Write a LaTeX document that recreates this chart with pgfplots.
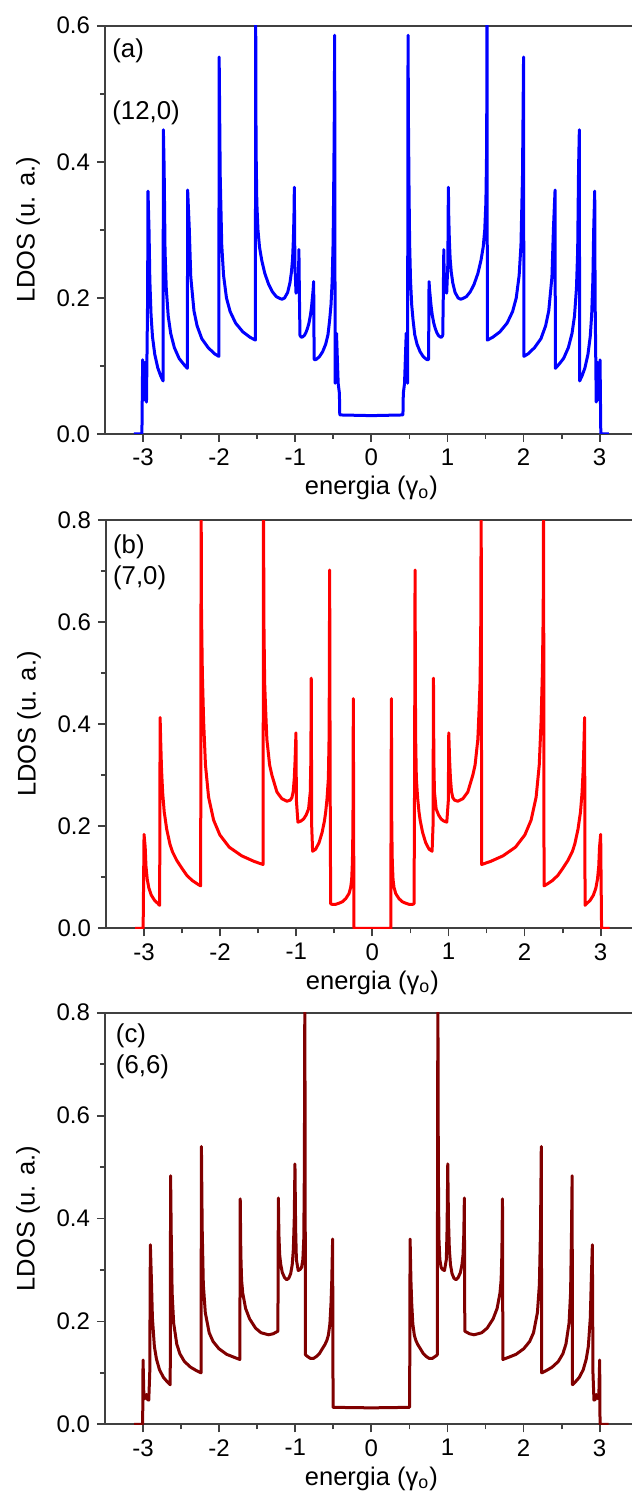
\documentclass[border=0pt]{standalone}
\usepackage{fontspec}
\setmainfont{Liberation Sans}
\usepackage{pgfplots}
\pgfplotsset{compat=1.18}
\definecolor{axisgray}{RGB}{64,64,64}
\definecolor{cblue}{RGB}{0,0,255}
\definecolor{cred}{RGB}{255,0,0}
\definecolor{cmaroon}{RGB}{128,0,0}
\tikzset{plab/.style={anchor=north west, inner sep=0pt, font=\fontsize{12.9}{15}\selectfont}}
\pgfplotsset{
  ldos/.style={
    scale only axis, width=264.45pt,
    xmin=-3.5, xmax=3.45, ymin=0,
    xtick={-3,-2,-1,0,1,2,3},
    minor x tick num=1, minor y tick num=1,
    tick pos=left, tick align=outside,
    major tick length=4pt, minor tick length=2.5pt,
    axis line style={axisgray, line width=0.9pt},
    tick style={axisgray, line width=0.9pt},
    ticklabel style={font=\fontsize{12}{14}\selectfont},
    /pgf/number format/assume math mode=true,
    yticklabel style={/pgf/number format/fixed, /pgf/number format/fixed zerofill, /pgf/number format/precision=1},
    xlabel={energia (γ\textsubscript{o})},
    ylabel={LDOS (u. a.)},
    label style={font=\fontsize{12.75}{15}\selectfont},
    xlabel style={at={(axis description cs:0.5036,0)}, anchor=base, yshift=-30.5pt},
    ylabel style={at={(axis description cs:-0.1456,0.5)}, anchor=center},
    every axis plot/.append style={line width=1.5pt, line join=round},
  },
}
\begin{document}
\begin{tikzpicture}
\path[use as bounding box] (0,0) rectangle (316pt,-747.5pt);
% ---------------- (a) ----------------
\begin{axis}[ldos, at={(52.5pt,-12.85pt)}, anchor=north west, height=204.15pt,
  ymax=0.6, ytick={0,0.2,0.4,0.6}]
\addplot[cblue] coordinates {
(-3.12,0) (-3.015,0) (-3.005,0.109) (-2.99,0.05) (-2.975,0.105) (-2.955,0.047) (-2.94,0.2) (-2.935,0.357)
(-2.921,0.297) (-2.911,0.227) (-2.895,0.175) (-2.876,0.143) (-2.846,0.117) (-2.806,0.097) (-2.767,0.085) (-2.737,0.078)
(-2.733,0.447) (-2.723,0.392) (-2.711,0.269) (-2.695,0.214) (-2.669,0.173) (-2.637,0.148) (-2.589,0.127) (-2.526,0.111) (-2.462,0.102) (-2.418,0.0965)
(-2.414,0.3585) (-2.393,0.303) (-2.373,0.231) (-2.331,0.181) (-2.290,0.159) (-2.228,0.140) (-2.145,0.127) (-2.062,0.118) (-2.004,0.114)
(-2.0,0.554) (-1.986,0.379) (-1.966,0.278) (-1.942,0.233) (-1.904,0.200) (-1.856,0.180) (-1.784,0.163) (-1.688,0.150) (-1.592,0.142) (-1.524,0.138)
(-1.52,0.62) (-1.515,0.42) (-1.505,0.34) (-1.49,0.30) (-1.47,0.275) (-1.44,0.255) (-1.40,0.236) (-1.35,0.220) (-1.30,0.209) (-1.25,0.202) (-1.20,0.199) (-1.174,0.198)
(-1.14,0.200) (-1.10,0.208) (-1.07,0.222) (-1.05,0.238) (-1.035,0.258) (-1.025,0.285) (-1.017,0.32) (-1.012,0.3625)
(-1.005,0.25) (-0.99,0.207) (-0.975,0.212) (-0.958,0.222) (-0.952,0.271) (-0.945,0.2) (-0.938,0.145) (-0.92,0.142) (-0.90,0.143)
(-0.88,0.145) (-0.86,0.149) (-0.84,0.155) (-0.82,0.163) (-0.80,0.175) (-0.785,0.188) (-0.775,0.200) (-0.765,0.212) (-0.758,0.224)
(-0.752,0.11) (-0.74,0.109) (-0.72,0.110) (-0.68,0.114) (-0.64,0.121) (-0.60,0.132) (-0.57,0.146) (-0.548,0.1675) (-0.53,0.19) (-0.515,0.225) (-0.503,0.28) (-0.495,0.36) (-0.488,0.45) (-0.482,0.586)
(-0.476,0.0745) (-0.458,0.148) (-0.436,0.0745) (-0.42,0.06) (-0.415,0.028) (0,0.027)
(0.415,0.028) (0.42,0.06) (0.436,0.0745) (0.458,0.148) (0.476,0.0745)
(0.482,0.586) (0.488,0.45) (0.495,0.36) (0.503,0.28) (0.515,0.225) (0.53,0.19) (0.548,0.1675) (0.57,0.146) (0.60,0.132) (0.64,0.121) (0.68,0.114) (0.72,0.110) (0.74,0.109) (0.752,0.11)
(0.758,0.224) (0.765,0.212) (0.775,0.200) (0.785,0.188) (0.80,0.175) (0.82,0.163) (0.84,0.155) (0.86,0.149) (0.88,0.145)
(0.90,0.143) (0.92,0.142) (0.938,0.145) (0.945,0.2) (0.952,0.271) (0.958,0.222) (0.975,0.212) (0.99,0.207) (1.005,0.25)
(1.012,0.3625) (1.017,0.32) (1.025,0.285) (1.035,0.258) (1.05,0.238) (1.07,0.222) (1.10,0.208) (1.14,0.200)
(1.174,0.198) (1.20,0.199) (1.25,0.202) (1.30,0.209) (1.35,0.220) (1.40,0.236) (1.44,0.255) (1.47,0.275) (1.49,0.30) (1.505,0.34) (1.515,0.42) (1.52,0.62)
(1.524,0.138) (1.592,0.142) (1.688,0.150) (1.784,0.163) (1.856,0.180) (1.904,0.200) (1.942,0.233) (1.966,0.278) (1.986,0.379) (2.0,0.554)
(2.004,0.114) (2.062,0.118) (2.145,0.127) (2.228,0.140) (2.290,0.159) (2.331,0.181) (2.373,0.231) (2.393,0.303) (2.414,0.3585)
(2.418,0.0965) (2.462,0.102) (2.526,0.111) (2.589,0.127) (2.637,0.148) (2.669,0.173) (2.695,0.214) (2.711,0.269) (2.723,0.392) (2.733,0.447)
(2.737,0.078) (2.767,0.085) (2.806,0.097) (2.846,0.117) (2.876,0.143) (2.895,0.175) (2.911,0.227) (2.921,0.297)
(2.935,0.357) (2.94,0.2) (2.955,0.047) (2.975,0.105) (2.99,0.05) (3.005,0.109) (3.015,0) (3.12,0)
};
\node[plab] at (rel axis cs:0.0132,0.97) {(a)};
\node[plab] at (rel axis cs:0.0132,0.818) {(12,0)};
\end{axis}
% ---------------- (b) ----------------
\begin{axis}[ldos, at={(53pt,-260pt)}, anchor=north west, height=204.15pt,
  ymax=0.8, ytick={0,0.2,0.4,0.6,0.8}]
\addplot[cred] coordinates {
(-3.118,0) (-3.012,0) (-3.006,0.09) (-3.0,0.184)
(-2.985,0.159) (-2.975,0.122) (-2.958,0.096) (-2.937,0.079) (-2.905,0.065) (-2.863,0.055) (-2.821,0.049) (-2.795,0.045)
(-2.789,0.413) (-2.78,0.36) (-2.77,0.31) (-2.755,0.265) (-2.735,0.228) (-2.702,0.194) (-2.66,0.165) (-2.627,0.150) (-2.57,0.133) (-2.50,0.117) (-2.439,0.104) (-2.37,0.094) (-2.30,0.087) (-2.256,0.083)
(-2.25,0.85) (-2.245,0.62) (-2.234,0.50) (-2.217,0.405) (-2.193,0.320) (-2.152,0.257) (-2.086,0.212) (-2.004,0.183) (-1.881,0.159) (-1.717,0.142) (-1.553,0.131) (-1.436,0.125)
(-1.43,0.85) (-1.425,0.6) (-1.415,0.48) (-1.40,0.42) (-1.386,0.37) (-1.35,0.32) (-1.32,0.30) (-1.254,0.267) (-1.19,0.254) (-1.123,0.249) (-1.08,0.251) (-1.057,0.256) (-1.04,0.268) (-1.026,0.294) (-1.015,0.33) (-1.004,0.383)
(-0.998,0.25) (-0.978,0.208) (-0.94,0.21) (-0.904,0.214) (-0.87,0.222) (-0.838,0.234) (-0.816,0.267) (-0.808,0.33) (-0.803,0.49) (-0.797,0.2) (-0.785,0.151)
(-0.745,0.155) (-0.70,0.168) (-0.66,0.188) (-0.63,0.21) (-0.613,0.228) (-0.595,0.255) (-0.578,0.294) (-0.568,0.38) (-0.561,0.702) (-0.555,0.3) (-0.548,0.048)
(-0.53,0.047) (-0.482,0.047) (-0.44,0.049) (-0.394,0.052) (-0.35,0.058) (-0.307,0.068) (-0.285,0.08) (-0.272,0.095) (-0.262,0.13) (-0.255,0.2) (-0.25,0.45) (-0.242,0)
(0,0)
(0.242,0) (0.25,0.45) (0.255,0.2) (0.262,0.13) (0.272,0.095) (0.285,0.08) (0.307,0.068) (0.35,0.058) (0.394,0.052) (0.44,0.049) (0.482,0.047) (0.53,0.047)
(0.548,0.048) (0.555,0.3) (0.561,0.702) (0.568,0.38) (0.578,0.294) (0.595,0.255) (0.613,0.228) (0.63,0.21) (0.66,0.188) (0.70,0.168) (0.745,0.155)
(0.785,0.151) (0.797,0.2) (0.803,0.49) (0.808,0.33) (0.816,0.267) (0.838,0.234) (0.87,0.222) (0.904,0.214) (0.94,0.21) (0.978,0.208) (0.998,0.25)
(1.004,0.383) (1.015,0.33) (1.026,0.294) (1.04,0.268) (1.057,0.256) (1.08,0.251) (1.123,0.249) (1.19,0.254) (1.254,0.267) (1.32,0.30) (1.35,0.32) (1.386,0.37) (1.40,0.42) (1.415,0.48) (1.425,0.6) (1.43,0.85)
(1.436,0.125) (1.553,0.131) (1.717,0.142) (1.881,0.159) (2.004,0.183) (2.086,0.212) (2.152,0.257) (2.193,0.320) (2.217,0.405) (2.234,0.50) (2.245,0.62) (2.25,0.85)
(2.256,0.083) (2.30,0.087) (2.37,0.094) (2.439,0.104) (2.50,0.117) (2.57,0.133) (2.627,0.150) (2.66,0.165) (2.702,0.194) (2.735,0.228) (2.755,0.265) (2.77,0.31) (2.78,0.36) (2.789,0.413)
(2.795,0.045) (2.821,0.049) (2.863,0.055) (2.905,0.065) (2.937,0.079) (2.958,0.096) (2.975,0.122) (2.985,0.159) (3.0,0.184) (3.006,0.09) (3.012,0) (3.118,0)
};
\node[plab] at (rel axis cs:0.0127,0.964) {(b)};
\node[plab] at (rel axis cs:0.0127,0.89) {(7,0)};
\end{axis}
% ---------------- (c) ----------------
\begin{axis}[ldos, at={(52.5pt,-506.35pt)}, anchor=north west, height=205.8pt,
  ymax=0.8, ytick={0,0.2,0.4,0.6,0.8}]
\addplot[cmaroon] coordinates {
(-3.118,0) (-3.005,0) (-3.0,0.125) (-2.99,0.06) (-2.975,0.05) (-2.955,0.058) (-2.94,0.048) (-2.925,0.047) (-2.912,0.1) (-2.904,0.349)
(-2.891,0.285) (-2.877,0.207) (-2.851,0.151) (-2.824,0.127) (-2.784,0.106) (-2.731,0.091) (-2.678,0.082) (-2.643,0.077)
(-2.638,0.483) (-2.63,0.373) (-2.618,0.256) (-2.598,0.197) (-2.557,0.156) (-2.516,0.137) (-2.456,0.122) (-2.375,0.111) (-2.294,0.104) (-2.238,0.1)
(-2.233,0.54) (-2.223,0.381) (-2.208,0.272) (-2.182,0.217) (-2.131,0.178) (-2.08,0.161) (-2.003,0.147) (-1.901,0.136) (-1.799,0.13) (-1.728,0.126)
(-1.723,0.438) (-1.715,0.33) (-1.705,0.28) (-1.69,0.255) (-1.652,0.225) (-1.60,0.205) (-1.522,0.187) (-1.45,0.178) (-1.35,0.174) (-1.29,0.176) (-1.228,0.181)
(-1.222,0.44) (-1.215,0.37) (-1.205,0.33) (-1.19,0.31) (-1.17,0.295) (-1.14,0.285) (-1.113,0.281) (-1.085,0.284) (-1.06,0.293) (-1.04,0.31) (-1.025,0.34) (-1.013,0.4) (-1.004,0.506)
(-0.995,0.38) (-0.985,0.32) (-0.961,0.299) (-0.935,0.301) (-0.917,0.305) (-0.9,0.32) (-0.888,0.36) (-0.88,0.5) (-0.874,0.85) (-0.866,0.135)
(-0.84,0.132) (-0.80,0.128) (-0.761,0.128) (-0.72,0.132) (-0.68,0.138) (-0.652,0.145) (-0.61,0.155) (-0.585,0.163) (-0.565,0.173) (-0.545,0.195) (-0.53,0.236) (-0.52,0.28) (-0.509,0.36) (-0.503,0.033)
(0,0.032)
(0.503,0.033) (0.509,0.36) (0.52,0.28) (0.53,0.236) (0.545,0.195) (0.565,0.173) (0.585,0.163) (0.61,0.155) (0.652,0.145) (0.68,0.138) (0.72,0.132) (0.761,0.128) (0.80,0.128) (0.84,0.132) (0.866,0.135)
(0.874,0.85) (0.88,0.5) (0.888,0.36) (0.9,0.32) (0.917,0.305) (0.935,0.301) (0.961,0.299) (0.985,0.32) (0.995,0.38) (1.004,0.506)
(1.013,0.4) (1.025,0.34) (1.04,0.31) (1.06,0.293) (1.085,0.284) (1.113,0.281) (1.14,0.285) (1.17,0.295) (1.19,0.31) (1.205,0.33) (1.215,0.37) (1.222,0.44)
(1.228,0.181) (1.29,0.176) (1.35,0.174) (1.45,0.178) (1.522,0.187) (1.60,0.205) (1.652,0.225) (1.69,0.255) (1.705,0.28) (1.715,0.33) (1.723,0.438)
(1.728,0.126) (1.799,0.13) (1.901,0.136) (2.003,0.147) (2.08,0.161) (2.131,0.178) (2.182,0.217) (2.208,0.272) (2.223,0.381) (2.233,0.54)
(2.238,0.1) (2.294,0.104) (2.375,0.111) (2.456,0.122) (2.516,0.137) (2.557,0.156) (2.598,0.197) (2.618,0.256) (2.63,0.373) (2.638,0.483)
(2.643,0.077) (2.678,0.082) (2.731,0.091) (2.784,0.106) (2.824,0.127) (2.851,0.151) (2.877,0.207) (2.891,0.285) (2.904,0.349)
(2.912,0.1) (2.925,0.047) (2.94,0.048) (2.955,0.058) (2.975,0.05) (2.99,0.06) (3.0,0.125) (3.005,0) (3.118,0)
};
\node[plab] at (rel axis cs:0.02,0.973) {(c)};
\node[plab] at (rel axis cs:0.02,0.899) {(6,6)};
\end{axis}
\end{tikzpicture}
\end{document}
